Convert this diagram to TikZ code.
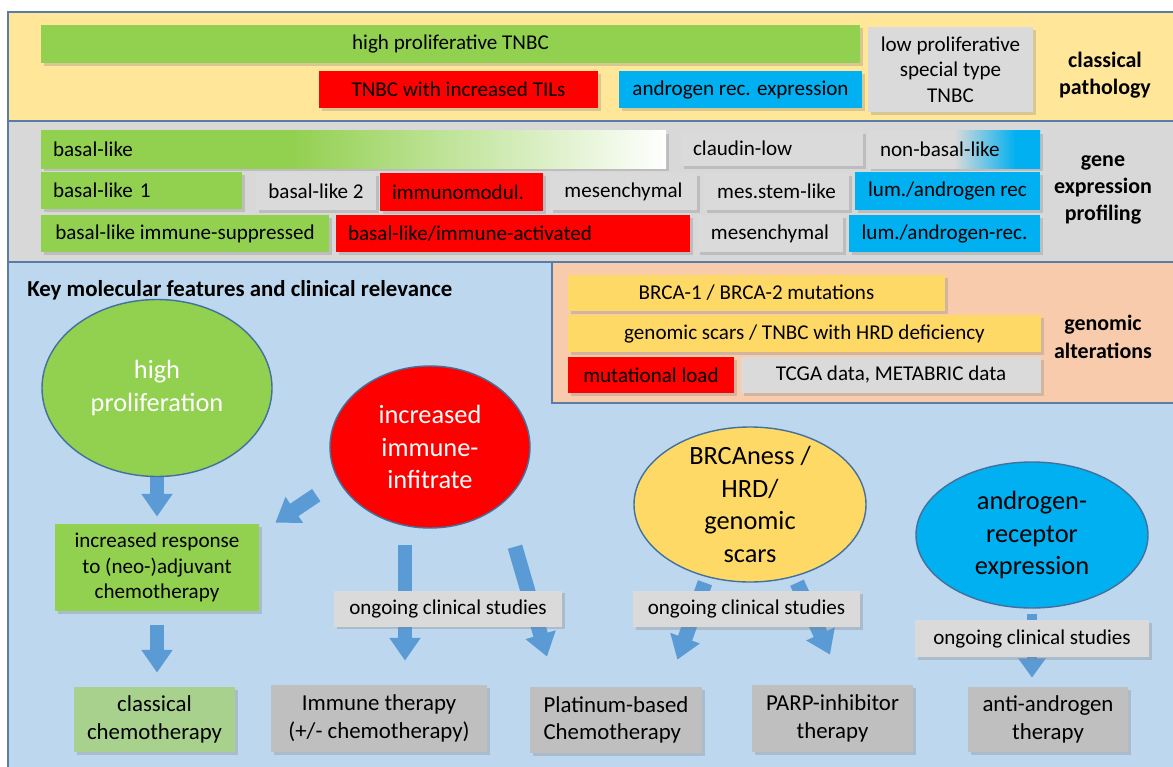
\documentclass[tikz,border=0pt]{standalone}
\usepackage{fontspec}
\setmainfont{Carlito}
\usetikzlibrary{arrows.meta,positioning,calc,shapes.geometric,shadows}

\definecolor{bandyel}{HTML}{FFE699}
\definecolor{bandgray}{HTML}{D8D8D8}
\definecolor{bandblue}{HTML}{BDD7EE}
\definecolor{bandorange}{HTML}{F8CBAD}
\definecolor{framecol}{HTML}{5A7CA6}
\definecolor{grn}{HTML}{92D050}
\definecolor{lgrn}{HTML}{A9D18E}
\definecolor{rd}{HTML}{FF0000}
\definecolor{cyn}{HTML}{00B0F0}
\definecolor{ylw}{HTML}{FFD966}
\definecolor{lgray}{HTML}{DADADA}
\definecolor{mgray}{HTML}{BFBFBF}
\definecolor{arrblue}{HTML}{5B9BD5}
\definecolor{ovalline}{HTML}{41719C}

\pgfdeclarehorizontalshading{basalfade}{100bp}{color(0bp)=(grn); color(45bp)=(grn); color(75bp)=(white); color(100bp)=(white)}
\pgfdeclarehorizontalshading{lumfade}{100bp}{color(0bp)=(lgray); color(50bp)=(lgray); color(68bp)=(cyn); color(100bp)=(cyn)}

\pgfdeclarelayer{back}
\pgfdeclarelayer{arrows}
\pgfsetlayers{back,arrows,main}

\begin{document}
\begin{tikzpicture}[
  x=0.02cm, y=-0.02cm,
  band/.style={draw=framecol, line width=1.1pt},
  box/.style={rectangle, inner sep=0pt, align=center, font=\fontsize{12}{14.5}\selectfont,
    drop shadow={shadow xshift=1.6pt, shadow yshift=-1.6pt, opacity=0.3}},
  sz/.style 2 args={minimum width=#1*0.02cm, minimum height=#2*0.02cm},
  lbox/.style={box, align=left, inner xsep=0.24cm},
  tbox/.style={box, font=\fontsize{13}{15.5}\selectfont},
  hdr/.style={align=center, font=\fontsize{12.5}{15.6}\selectfont\bfseries},
  oval/.style={ellipse, draw=ovalline, line width=0.8pt, inner sep=0pt, align=center,
    font=\fontsize{15}{18.5}\selectfont},
  blk/.style={draw=arrblue, line width=8.5pt, -{Triangle[width=17pt,length=13pt]}},
  smallblk/.style={draw=arrblue, line width=6pt, -{Triangle[width=15pt,length=11pt]}}
]
\useasboundingbox (0,0) rectangle (1173,767);

% bands
\begin{pgfonlayer}{back}
\fill[white] (0,0) rectangle (1173,767);
\draw[band, fill=bandyel] (8,12) rectangle (1190,121);
\draw[band, fill=bandgray] (8,121) rectangle (1190,262);
\draw[band, fill=bandblue] (8,262) rectangle (1190,790);
\draw[band, fill=bandorange] (552,262) rectangle (1190,403);
\end{pgfonlayer}

% classical pathology
\node[box, fill=grn, sz={819}{38}] (hpt) at (450.5,44) {high proliferative TNBC};
\node[box, fill=rd, sz={279}{37}] (tils) at (458.5,89.5) {TNBC with increased TILs};
\node[box, fill=cyn, sz={243}{37}] (arx) at (740.5,89.5) {androgen rec. expression};
\node[box, fill=lgray, sz={165}{85}] (lowp) at (950.5,69.5) {low proliferative\\special type\\TNBC};
\node[hdr] (cpath) at (1105,75) {classical\\pathology};

% gene expression profiling
\node[lbox, shade, shading=basalfade, sz={625}{37}, text width=12.02cm] (basal) at (353.5,149.5) {basal-like};
\node[lbox, fill=lgray, sz={182}{35}, text width=3.16cm] (claudin) at (772,148.5) {claudin-low};
\node[lbox, shade, shading=lumfade, sz={172}{37}, text width=2.96cm] (nonbasal) at (954,149.5) {non-basal-like};
\node[lbox, fill=grn, sz={201}{37}, text width=3.54cm] (bl1) at (141.5,190.5) {basal-like 1};
\node[box, fill=lgray, sz={120}{37}] (bl2) at (316,191.5) {basal-like 2};
\node[lbox, fill=rd, sz={163}{38}, text width=2.78cm] (imod) at (461.5,192) {immunomodul.};
\node[box, fill=lgray, sz={147}{37}] (mes1) at (623.5,191.5) {mesenchymal};
\node[box, fill=lgray, sz={145}{37}] (mstem) at (776.5,191.5) {mes.stem-like};
\node[box, fill=cyn, sz={185}{38}] (lum1) at (947.5,191) {lum./androgen rec};
\node[box, fill=grn, sz={288}{37}] (blis) at (185,233.5) {basal-like immune-suppressed};
\node[lbox, fill=rd, sz={354}{37}, text width=6.6cm] (blia) at (513,233.5) {basal-like/immune-activated};
\node[box, fill=lgray, sz={146}{37}] (mes2) at (770,233.5) {mesenchymal};
\node[box, fill=cyn, sz={191}{37}] (lum2) at (944.5,233.5) {lum./androgen-rec.};
\node[hdr] (gep) at (1103,190) {gene\\expression\\profiling};

% genomic alterations
\node[box, fill=ylw, sz={377}{36}] (brca) at (756.5,293) {BRCA-1 / BRCA-2 mutations};
\node[box, fill=ylw, sz={473}{37}] (scars) at (804.5,333.5) {genomic scars / TNBC with HRD deficiency};
\node[box, fill=rd, sz={166}{36}] (mload) at (651,375) {mutational load};
\node[box, fill=lgray, sz={300}{36}] (tcga) at (891,375) {TCGA data, METABRIC data};
\node[hdr] (galt) at (1103,337) {genomic\\alterations};

% key molecular features
\node[hdr, anchor=west, inner sep=0pt, font=\fontsize{13}{15.6}\selectfont\bfseries] (key) at (27,290) {Key molecular features and clinical relevance};
\node[oval, fill=grn, text=white, sz={230}{177}] (hp) at (157,388) {high\\proliferation};
\node[oval, fill=rd, text=white, sz={200}{162}] (imm) at (430,447) {increased\\immune-\\infitrate};
\node[oval, fill=ylw, sz={232}{155}, inner ysep=-4.5pt] (brc) at (750,504.5) {BRCAness /\\HRD/\\genomic\\scars};
\node[oval, fill=cyn, sz={232}{146}] (andro) at (1032,535) {androgen-\\receptor\\expression};

\node[box, fill=grn, sz={204}{87}] (resp) at (157,567.5) {increased response\\to (neo-)adjuvant\\chemotherapy};
\node[tbox, fill=lgrn, sz={161}{65}] (classic) at (154.5,719.5) {classical\\chemotherapy};
\node[tbox, fill=mgray, sz={216}{67}] (immth) at (379,718.5) {Immune therapy\\(+/- chemotherapy)};
\node[tbox, fill=mgray, sz={172}{66}, align=left] (plat) at (616,720) {Platinum-based\\Chemotherapy};
\node[tbox, fill=mgray, sz={161}{67}] (parp) at (832.5,718.5) {PARP-inhibitor\\therapy};
\node[tbox, fill=mgray, sz={160}{65}] (antia) at (1048,719.5) {anti-androgen\\therapy};

\node[box, fill=lgray, sz={228}{36}] (ocs1) at (448,608.5) {ongoing clinical studies};
\node[box, fill=lgray, sz={227}{36}] (ocs2) at (746.5,609) {ongoing clinical studies};
\node[box, fill=lgray, sz={234}{37}] (ocs3) at (1032,638.5) {ongoing clinical studies};

% block arrows
\begin{pgfonlayer}{arrows}
\draw[blk] ($(hp.south)+(0,-7)$) -- ($(resp.north)+(0,-7)$);
\draw[blk] ($(resp.south)+(0,14)$) -- ($(resp.south |- classic.north)+(0,-14)$);
\draw[blk, shorten <=15pt] (imm.200) -- ($(resp.north east)+(16,-1)$);
\draw[blk] ($(imm.south)+(-25,16)$) -- ($(immth.north)+(26,-24)$);
\draw[blk] ($(imm.south)+(85,18)$) -- ($(plat.north)+(-69,-30)$);
\draw[blk] ($(brc.south)+(-45,0)$) -- ($(plat.north east)+(-25,-27)$);
\draw[blk] ($(brc.south)+(47,0)$) -- ($(parp.north)+(-2.5,-30)$);
\draw[smallblk] ($(andro.south)+(0,5)$) -- ($(andro.south |- antia.north)+(0,-9)$);
\end{pgfonlayer}

\end{tikzpicture}
\end{document}
